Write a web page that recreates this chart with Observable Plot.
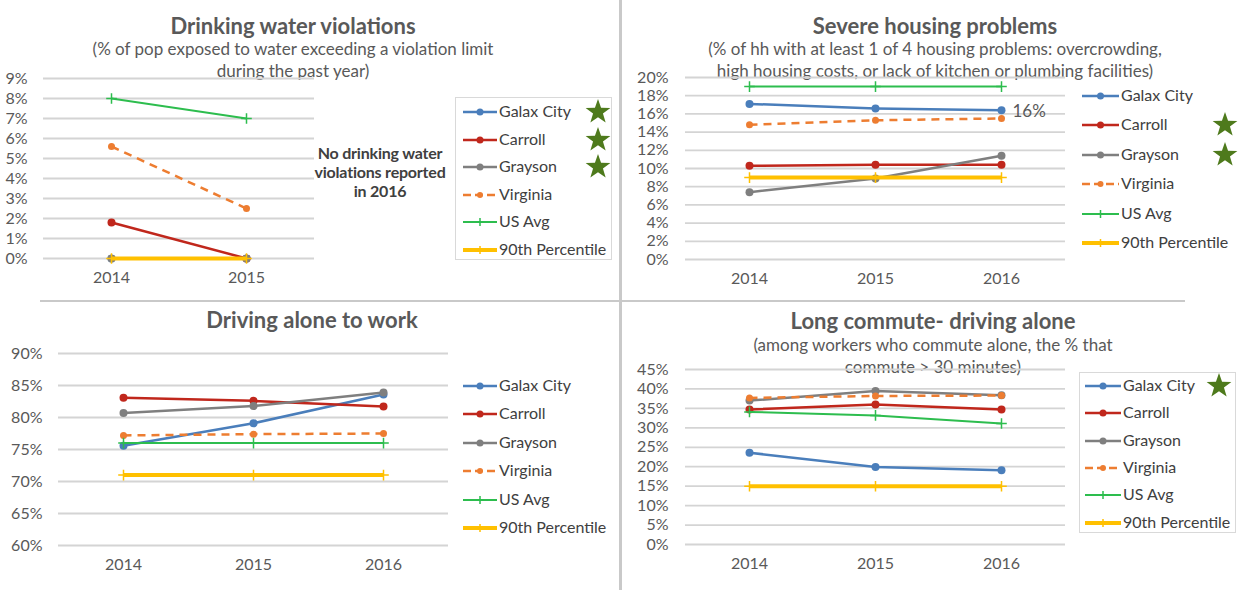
<!DOCTYPE html>
<html><head><meta charset="utf-8">
<script src="https://cdn.jsdelivr.net/npm/d3@7"></script>
<script src="https://cdn.jsdelivr.net/npm/@observablehq/plot@0.6"></script>
<style>
body{margin:0;background:#fff;font-family:Lato,"Open Sans",sans-serif;}
#root{position:relative;width:1242px;height:590px;overflow:hidden;background:#fff;}
.abs{position:absolute;}
.title{font-weight:bold;font-size:22px;color:#595959;text-align:center;white-space:nowrap;line-height:24px;}
.sub{font-size:17px;color:#595959;text-align:center;line-height:22px;white-space:nowrap;}
.legtext{font-size:16px;color:#404040;white-space:nowrap;line-height:20px;}
.note{font-weight:bold;font-size:16px;color:#404040;text-align:center;line-height:19px;white-space:nowrap;letter-spacing:-0.2px;}
</style></head><body><div id="root"></div><script>
// ---------- data ----------
const seriesNames = ["Galax City","Carroll","Grayson","Virginia","US Avg","90th Percentile"];

// Drinking water violations (%)
const waterYears = ["2014","2015"];
const waterGalax = [0, 0];
const waterCarroll = [1.8, 0];
const waterGrayson = [0, 0];
const waterVirginia = [5.6, 2.5];
const waterUS = [8, 7];
const water90 = [0, 0];
const waterTicks = [0,1,2,3,4,5,6,7,8,9];

// Severe housing problems (%)
const housingYears = ["2014","2015","2016"];
const housingGalax = [17.1, 16.6, 16.4];
const housingCarroll = [10.3, 10.4, 10.4];
const housingGrayson = [7.4, 8.9, 11.4];
const housingVirginia = [14.8, 15.3, 15.5];
const housingUS = [19, 19, 19];
const housing90 = [9, 9, 9];
const housingTicks = [0,2,4,6,8,10,12,14,16,18,20];

// Driving alone to work (%)
const driveYears = ["2014","2015","2016"];
const driveGalax = [75.6, 79.1, 83.6];
const driveCarroll = [83.1, 82.6, 81.7];
const driveGrayson = [80.7, 81.8, 83.9];
const driveVirginia = [77.2, 77.4, 77.5];
const driveUS = [76, 76, 76];
const drive90 = [71, 71, 71];
const driveTicks = [60,65,70,75,80,85,90];

// Long commute - driving alone (%)
const commuteYears = ["2014","2015","2016"];
const commuteGalax = [23.6, 19.9, 19.1];
const commuteCarroll = [34.7, 36.0, 34.7];
const commuteGrayson = [37.0, 39.5, 38.4];
const commuteVirginia = [37.7, 38.2, 38.3];
const commuteUS = [34.1, 33.2, 31.1];
const commute90 = [15, 15, 15];
const commuteTicks = [0,5,10,15,20,25,30,35,40,45];

// ---------- styles ----------
const styles = {
  "Galax City":      {stroke:"#4a7ebb", sw:2.5, symbol:"circle", r:4},
  "Carroll":         {stroke:"#c0271c", sw:2.5, symbol:"circle", r:4},
  "Grayson":         {stroke:"#7f7f7f", sw:2.5, symbol:"circle", r:4},
  "Virginia":        {stroke:"#ed7d31", sw:2.5, symbol:"circle", r:3.5, dash:"8,6"},
  "US Avg":          {stroke:"#2dbd4e", sw:2, symbol:"plus", r:3.5},
  "90th Percentile": {stroke:"#ffc000", sw:4, symbol:"plus", r:3.5}
};
const starColor = "#4e7a1c";
const root = document.getElementById("root");

function el(cls, left, top, html, extra) {
  const d = document.createElement("div");
  d.className = "abs " + cls;
  d.style.left = left + "px"; d.style.top = top + "px";
  if (extra) Object.assign(d.style, extra);
  d.innerHTML = html;
  root.appendChild(d);
  return d;
}

function starSVG(size) {
  const pts = [];
  for (let i = 0; i < 10; i++) {
    const a = -Math.PI/2 + i*Math.PI/5;
    const rr = i % 2 === 0 ? size/2 : size/2*0.4;
    pts.push((size/2 + rr*Math.cos(a)).toFixed(2) + "," + (size/2 + 1 + rr*Math.sin(a)).toFixed(2));
  }
  return `<svg width="${size}" height="${size}"><polygon points="${pts.join(" ")}" fill="${starColor}"/></svg>`;
}

function swatchSVG(name, w) {
  const s = styles[name];
  let m;
  if (s.symbol === "circle") m = `<circle cx="${w/2}" cy="7" r="${s.r-0.5}" fill="${s.stroke}"/>`;
  else m = `<path d="M${w/2-4},7h8M${w/2},3v8" stroke="${s.stroke}" stroke-width="1.5"/>`;
  return `<svg width="${w}" height="14" style="display:block"><line x1="0" x2="${w}" y1="7" y2="7" stroke="${s.stroke}" stroke-width="${s.sw}" ${s.dash ? `stroke-dasharray="8,4"` : ""}/>${m}</svg>`;
}

function panel(cfg) {
  const rows = [];
  cfg.series.forEach((vals, i) => vals.forEach((v, j) => rows.push({series: seriesNames[i], year: cfg.years[j], value: v})));
  const marks = [Plot.ruleY(cfg.ticks, {stroke:"#d4d4d4", strokeWidth:1.8})];
  seriesNames.forEach(name => {
    const s = styles[name];
    const d = rows.filter(r => r.series === name);
    marks.push(Plot.line(d, {x:"year", y:"value", stroke:s.stroke, strokeWidth:s.sw, strokeDasharray:s.dash, strokeLinecap:"butt"}));
    if (s.symbol === "circle")
      marks.push(Plot.dot(d, {x:"year", y:"value", r:s.r, fill:s.stroke, stroke:"none"}));
    else
      marks.push(Plot.dot(d, {x:"year", y:"value", r:s.r, symbol:"plus", stroke:s.stroke, strokeWidth:1.5}));
  });
  if (cfg.extraMarks) marks.push(...cfg.extraMarks(rows));
  const chart = Plot.plot({
    width: cfg.width, height: cfg.height,
    marginLeft: cfg.ml, marginRight: cfg.mr, marginTop: cfg.mt, marginBottom: cfg.mb,
    x: {type:"point", domain: cfg.years, padding:0.5, label:null, tickSize:0, tickPadding:13},
    y: {domain: [cfg.ticks[0], cfg.ticks[cfg.ticks.length-1]], ticks: cfg.ticks, tickFormat: d => d + "%", label:null, tickSize:0, tickPadding: cfg.tp},
    style: {fontFamily:"Lato, sans-serif", fontSize:"16px", color:"#595959", background:"transparent", overflow:"visible"},
    marks
  });
  chart.style.position = "absolute";
  chart.style.left = cfg.left + "px"; chart.style.top = cfg.top + "px";
  root.appendChild(chart);

  // legend
  const L = cfg.legend;
  if (L.box) {
    el("", L.box[0], L.box[1], "", {width:(L.box[2]-L.box[0])+"px", height:(L.box[3]-L.box[1])+"px", border:"1px solid #d9d9d9", boxSizing:"border-box"});
  }
  seriesNames.forEach((name, i) => {
    const cy = L.y0 + i*L.dy;
    el("", L.sx, cy - 7, swatchSVG(name, L.sw));
    el("legtext", L.tx, cy - 11, name);
    if (L.stars.includes(name)) el("", L.starX - 13, cy - 14, starSVG(26));
  });
}

// ---------- titles ----------
el("title", 0, 14, "Drinking water violations", {width:"586px"});
el("sub", 0, 38, "(% of pop exposed to water exceeding a violation limit<br>during the past year)", {width:"586px"});
el("title", 620, 14, "Severe housing problems", {width:"630px"});
el("sub", 620, 38, "(% of hh with at least 1 of 4 housing problems: overcrowding,<br>high housing costs, or lack of kitchen or plumbing facilities)", {width:"630px"});
el("title", 0, 308, "Driving alone to work", {width:"624px"});
el("title", 620, 309, "Long commute- driving alone", {width:"626px"});
el("sub", 620, 334, "(among workers who commute alone, the % that<br>commute &gt; 30 minutes)", {width:"626px"});
el("note", 290, 143, "No drinking water<br>violations reported<br>in 2016", {width:"180px"});

// dividers
el("", 619, 0, "", {width:"3px", height:"590px", background:"#c9c9c9"});
el("", 40, 300, "", {width:"1145px", height:"2px", background:"#c9c9c9"});

// ---------- panels ----------
panel({years: waterYears, series:[waterGalax, waterCarroll, waterGrayson, waterVirginia, waterUS, water90], ticks: waterTicks,
  left:0, top:60, width:330, height:230, ml:43, mr:16, mt:18, mb:32, tp:16,
  legend:{box:[455,97,612,260], y0:112, dy:27.6, sx:463, sw:34, tx:499, starX:598, stars:["Galax City","Carroll","Grayson"]}});

panel({years: housingYears, series:[housingGalax, housingCarroll, housingGrayson, housingVirginia, housingUS, housing90], ticks: housingTicks,
  left:620, top:60, width:460, height:230, ml:65, mr:15, mt:17, mb:31, tp:17,
  legend:{box:null, y0:96, dy:29.4, sx:1082, sw:37, tx:1121, starX:1225, stars:["Carroll","Grayson"]},
  extraMarks: rows => [Plot.text(rows.filter(r => r.series === "Galax City" && r.year === "2016"),
    {x:"year", y:"value", text: d => Math.round(d.value) + "%", dx:11, dy:1, textAnchor:"start", fill:"#595959", fontSize:17})]});

panel({years: driveYears, series:[driveGalax, driveCarroll, driveGrayson, driveVirginia, driveUS, drive90], ticks: driveTicks,
  left:0, top:335, width:460, height:240, ml:58, mr:12, mt:18, mb:30, tp:16,
  legend:{box:null, y0:386, dy:28.4, sx:463, sw:34, tx:499, starX:0, stars:[]}});

panel({years: commuteYears, series:[commuteGalax, commuteCarroll, commuteGrayson, commuteVirginia, commuteUS, commute90], ticks: commuteTicks,
  left:620, top:350, width:460, height:230, ml:65, mr:15, mt:19, mb:36, tp:17,
  legend:{box:[1079,372,1236,533], y0:386, dy:27.3, sx:1085, sw:36, tx:1123, starX:1219, stars:["Galax City"]}});
</script></body></html>
